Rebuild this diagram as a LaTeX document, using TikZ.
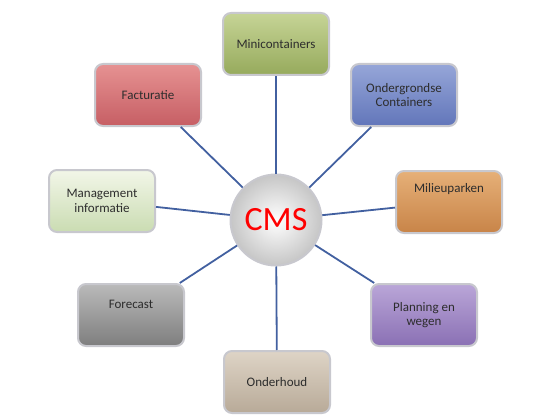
\documentclass[tikz,border=0pt]{standalone}
\usepackage{fontspec}
\setmainfont{Carlito}
\usepackage{tikz}
\usetikzlibrary{positioning}

\definecolor{spokeblue}{RGB}{66,96,160}
\definecolor{rimgray}{RGB}{200,200,206}
\definecolor{labelgray}{RGB}{45,45,45}
\definecolor{miniTop}{RGB}{198,212,150}\definecolor{miniBot}{RGB}{150,170,92}
\definecolor{ondTop}{RGB}{150,166,216}\definecolor{ondBot}{RGB}{98,118,186}
\definecolor{milTop}{RGB}{230,176,120}\definecolor{milBot}{RGB}{200,132,72}
\definecolor{planTop}{RGB}{186,166,216}\definecolor{planBot}{RGB}{138,112,180}
\definecolor{ondhTop}{RGB}{222,212,198}\definecolor{ondhBot}{RGB}{184,170,152}
\definecolor{foreTop}{RGB}{186,186,186}\definecolor{foreBot}{RGB}{126,126,126}
\definecolor{manTop}{RGB}{242,246,232}\definecolor{manBot}{RGB}{202,220,178}
\definecolor{facTop}{RGB}{230,146,146}\definecolor{facBot}{RGB}{198,94,100}

\begin{document}
\begin{tikzpicture}[x=1pt, y=-1pt,
                    blocknode/.style={rectangle, rounded corners=8pt, draw=rimgray, line width=2pt,
                                      minimum width=106pt, minimum height=62pt, align=center,
                                      text=labelgray, font=\fontsize{13}{14.5}\selectfont},
                    hubnode/.style={circle, draw=rimgray, line width=2pt, minimum size=91pt,
                                    inner color=white, outer color=gray!45, text=red,
                                    font=\fontsize{34}{36}\selectfont},
                    spoke/.style={draw=spokeblue, line width=1.8pt}]
                    \useasboundingbox (0,0) rectangle (560,420);
                    \node[hubnode] (0) at (276,220) {CMS};
                    \node[blocknode, top color=miniTop, bottom color=miniBot] (1) at (276,44) {Minicontainers};
                    \node[blocknode, top color=ondTop, bottom color=ondBot] (2) at (404,95) {Ondergrondse\\Containers};
                    \node[blocknode, top color=milTop, bottom color=milBot] (3) at (449,202) {Milieuparken\\[14pt]};
                    \node[blocknode, top color=planTop, bottom color=planBot] (4) at (424,315) {Planning en\\wegen};
                    \node[blocknode, top color=ondhTop, bottom color=ondhBot] (5) at (277,382) {Onderhoud};
                    \node[blocknode, top color=foreTop, bottom color=foreBot] (6) at (131,315) {Forecast\\[6pt]};
                    \node[blocknode, top color=manTop, bottom color=manBot] (7) at (102,201) {Management\\informatie};
                    \node[blocknode, top color=facTop, bottom color=facBot] (8) at (148,95) {Facturatie};
                    \draw[spoke] (0) -- (1);
                    \draw[spoke] (0) -- (2);
                    \draw[spoke] (0) -- (3);
                    \draw[spoke] (0) -- (4);
                    \draw[spoke] (0) -- (5);
                    \draw[spoke] (0) -- (6);
                    \draw[spoke] (0) -- (7);
                    \draw[spoke] (0) -- (8);
                \end{tikzpicture}
\end{document}
